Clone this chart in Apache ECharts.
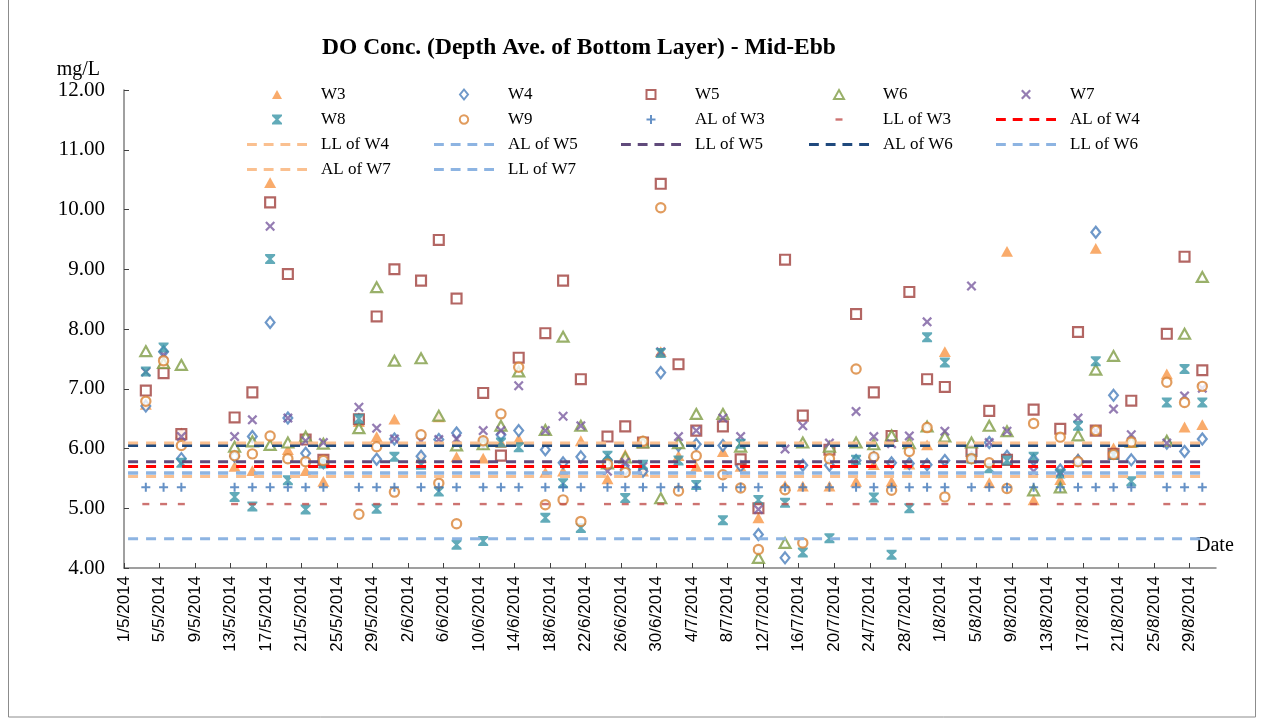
<!DOCTYPE html>
<html>
<head>
<meta charset="utf-8">
<title>DO Conc. (Depth Ave. of Bottom Layer) - Mid-Ebb</title>
<script src="https://cdn.jsdelivr.net/npm/echarts@6/dist/echarts.min.js"></script>
<style>
html, body { margin: 0; padding: 0; background: #fff; }
#chart { width: 1264px; height: 720px; }
</style>
</head>
<body>
<div id="chart"></div>
<script>
// sampling dates in 2014 (d/m)
var sampleDates = ['3/5','5/5','7/5','13/5','15/5','17/5','19/5','21/5','23/5','27/5','29/5','31/5',
  '3/6','5/6','7/6','10/6','12/6','14/6','17/6','19/6','21/6','24/6','26/6','28/6','30/6',
  '2/7','4/7','7/7','9/7','11/7','14/7','16/7','19/7','22/7','24/7','26/7','28/7','30/7',
  '1/8','4/8','6/8','8/8','11/8','14/8','16/8','18/8','20/8','22/8','26/8','28/8','30/8'];

// DO, mg/L
var w3 = [6.74,7.45,6.26,5.70,5.63,10.45,5.98,5.63,5.45,6.45,6.20,6.49,
  5.85,6.53,5.86,5.84,6.10,6.16,5.60,5.62,6.13,5.49,5.90,5.62,7.62,
  5.88,5.70,5.95,5.70,4.84,5.38,5.37,5.37,5.45,5.73,5.45,5.74,6.06,
  7.62,5.85,5.43,9.30,5.14,5.48,5.84,9.35,6.01,6.10,7.25,6.36,6.40];
var w4 = [6.71,7.62,5.83,5.87,6.20,8.11,6.51,5.92,5.76,6.48,5.82,6.16,
  5.87,6.15,6.26,6.10,6.23,6.30,5.98,5.76,5.86,5.80,5.65,5.62,7.27,
  6.05,6.07,6.05,5.71,4.56,4.17,5.72,5.72,5.80,5.85,5.76,5.75,5.73,
  5.80,5.85,6.10,5.87,5.81,5.64,5.80,9.62,6.89,5.81,6.09,5.95,6.16];
var w5 = [6.97,7.26,6.24,6.52,6.94,10.12,8.92,6.15,5.81,6.49,8.21,9.00,
  8.81,9.49,8.51,6.93,5.88,7.52,7.93,8.81,7.16,6.20,6.37,6.10,10.43,
  7.41,6.30,6.37,5.82,5.00,9.16,6.55,5.98,8.25,6.94,6.21,8.62,7.16,
  7.03,5.96,6.63,5.81,6.65,6.33,7.95,6.30,5.91,6.80,7.92,9.21,7.31];
var w6 = [7.63,7.43,7.40,6.03,6.12,6.06,6.10,6.20,6.08,6.34,8.70,7.47,
  7.51,6.55,6.05,6.07,6.38,7.29,6.31,7.87,6.38,5.75,5.85,6.10,5.17,
  6.09,6.58,6.58,6.03,4.17,4.42,6.10,6.03,6.10,6.07,6.22,6.09,6.37,
  6.20,6.10,6.38,6.29,5.30,5.35,6.22,7.32,7.55,6.12,6.13,7.92,8.87];
var w7 = [7.28,7.57,6.20,6.20,6.48,9.72,6.51,6.13,6.10,6.69,6.34,6.16,
  6.12,6.15,6.16,6.30,6.30,7.05,6.30,6.54,6.38,5.62,5.77,5.70,7.62,
  6.20,6.30,6.51,6.20,4.98,5.99,6.38,6.09,6.62,6.20,6.08,6.21,8.12,
  6.29,8.72,6.10,6.29,5.62,5.60,6.51,6.30,6.66,6.23,6.09,6.88,7.01];
var w8 = [7.29,7.69,5.76,5.19,5.03,9.17,5.47,4.98,5.75,6.50,4.99,5.86,
  5.73,5.28,4.39,4.45,6.10,6.02,4.84,5.42,4.67,5.88,5.17,5.73,7.60,
  5.80,5.39,4.80,6.08,5.14,5.09,4.26,4.50,5.81,5.18,4.22,5.00,7.86,
  7.44,5.83,5.67,5.80,5.86,5.58,6.38,7.46,5.89,5.45,6.77,7.33,6.77];
var w9 = [6.79,7.47,6.05,5.88,5.91,6.21,5.83,5.78,5.80,4.90,6.03,5.27,
  6.23,5.42,4.74,6.13,6.58,7.36,5.06,5.14,4.78,5.74,5.60,6.12,10.03,
  5.29,5.88,5.56,5.34,4.31,5.31,4.42,5.83,7.33,5.86,5.30,5.95,6.35,
  5.19,5.83,5.76,5.33,6.42,6.19,5.78,6.30,5.90,6.11,7.11,6.77,7.04];

// action / limit levels
var alW3 = 5.35, llW3 = 5.07;
var limitNames  = ['AL of W4','LL of W4','AL of W5','LL of W5','AL of W6','LL of W6','AL of W7','LL of W7'];
var limitValues = [5.70, 5.53, 5.59, 5.78, 6.05, 5.59, 6.09, 4.49];
var limitColors = ['#FF0000','#FAC090','#8DB4E2','#604A7B','#1F497D','#8DB4E2','#FAC090','#8DB4E2'];
var limitSpan = ['1/5','30/8'];

var yTicks = [4, 12, 1];      // min, max, step
var sampleHour = 11;          // approx. mid-ebb sampling time

var DAY = 86400000, origin = Date.UTC(2014, 4, 1);
function dayOf(s) {
  var p = s.split('/');
  return (Date.UTC(2014, +p[1] - 1, +p[0]) - origin) / DAY;
}
function pts(vals) {
  return sampleDates.map(function (d, i) { return [dayOf(d) + sampleHour / 24, vals[i]]; });
}
function dateLabel(v) {
  var d = new Date(origin + Math.round(v) * DAY);
  return d.getUTCDate() + '/' + (d.getUTCMonth() + 1) + '/2014';
}

var SERIF = '"Liberation Serif", "Times New Roman", serif';
// marker shapes as paths so the legend keeps their aspect
var BOX = 'M0,0M10,10';
var symTri = 'path://' + BOX + 'M5,0.5L10,9.5H0Z';
var symDiamond = 'path://' + BOX + 'M5,0L9,5L5,10L1,5Z';
var symSquare = 'path://' + BOX + 'M0.5,0.5H9.5V9.5H0.5Z';
var symCircle = 'path://' + BOX + 'M5,0.8A4.2,4.2,0,1,1,4.99,0.8Z';
var symX = 'path://' + BOX + 'M0,1.6L1.6,0L5,3.4L8.4,0L10,1.6L6.6,5L10,8.4L8.4,10L5,6.6L1.6,10L0,8.4L3.4,5Z';
var symStar = 'path://' + BOX + 'M0,0H10V1.6L6.4,5L10,8.4V10H0V8.4L3.6,5L0,1.6Z';
var symPlus = 'path://' + BOX + 'M4,0.5H6V4H9.5V6H6V9.5H4V6H0.5V4H4Z';
var symDash = 'path://' + BOX + 'M1.5,3.8H8.5V6.2H1.5Z';
var symDashed = 'path://M0,0H10V3H0Z M17,0H27V3H17Z M34,0H44V3H34Z M51,0H61V3H51Z';

function scatter(name, vals, symbol, size, color, hollow) {
  return {
    name: name, type: 'scatter', data: pts(vals), symbol: symbol, symbolSize: size, color: color,
    itemStyle: hollow ? { color: '#fff', borderColor: color, borderWidth: 2.2 } : { color: color }
  };
}

var series = [
  scatter('W3', w3, symTri, 12, '#F79646', false),
  scatter('W4', w4, symDiamond, 11, '#4A7EBB', true),
  scatter('W5', w5, symSquare, 11, '#A0403C', true),
  scatter('W6', w6, symTri, 11, '#7F9C45', true),
  scatter('W7', w7, symX, 10, '#7B5CA0', false),
  scatter('W8', w8, symStar, 10, '#3B96A8', false),
  scatter('W9', w9, symCircle, 11, '#D98336', true),
  scatter('AL of W3', sampleDates.map(function () { return alW3; }), symPlus, 10, '#3E76B8', false),
  scatter('LL of W3', sampleDates.map(function () { return llW3; }), symDash, 10, '#C0504D', false)
];
limitNames.forEach(function (n, i) {
  series.push({
    name: n, type: 'line', symbol: 'none', silent: true, color: limitColors[i],
    data: limitSpan.map(function (d) { return [dayOf(d) + sampleHour / 24, limitValues[i]]; }),
    itemStyle: { color: limitColors[i] },
    lineStyle: { color: limitColors[i], width: 3, type: [10, 8] }
  });
});

var legendCols = [
  { left: 242, data: ['W3','W8','LL of W4','AL of W7'] },
  { left: 429, data: ['W4','W9','AL of W5','LL of W7'] },
  { left: 616, data: ['W5','AL of W3','LL of W5'] },
  { left: 804, data: ['W6','LL of W3','AL of W6'] },
  { left: 991, data: ['W7','AL of W4','LL of W6'] }
];

var chart = echarts.init(document.getElementById('chart'));
chart.setOption({
  animation: false,
  title: {
    text: 'DO Conc. (Depth Ave. of Bottom Layer) - Mid-Ebb',
    left: 317, top: 31,
    textStyle: { fontFamily: SERIF, fontSize: 23.5, fontWeight: 'bold', color: '#000' }
  },
  legend: legendCols.map(function (c) {
    return {
      orient: 'vertical', left: c.left, top: 81, selectedMode: false, symbolKeepAspect: true,
      data: c.data.map(function (n) {
        return limitNames.indexOf(n) >= 0 ? { name: n, icon: symDashed } : { name: n };
      }),
      itemWidth: 60, itemHeight: 10, itemGap: 8,
      textStyle: { fontFamily: SERIF, fontSize: 17, lineHeight: 17, color: '#000', padding: [0, 0, 0, 9] }
    };
  }),
  grid: { left: 124, right: 48, top: 90, bottom: 152 },
  xAxis: {
    type: 'value', min: 0, max: 123, interval: 4,
    name: 'Date', nameLocation: 'end', nameGap: -20,
    nameTextStyle: { fontFamily: SERIF, fontSize: 20, color: '#000', verticalAlign: 'bottom', padding: [0, 0, 12, 0] },
    splitLine: { show: false },
    axisLine: { lineStyle: { color: '#808080', width: 1.5 } },
    axisTick: { inside: true, length: 5, lineStyle: { color: '#404040' } },
    axisLabel: {
      rotate: 90, margin: 8, showMaxLabel: false, formatter: dateLabel,
      fontFamily: '"Liberation Sans", Arial, sans-serif', fontSize: 17, color: '#000'
    }
  },
  yAxis: {
    type: 'value', min: yTicks[0], max: yTicks[1], interval: yTicks[2],
    name: 'mg/L', nameLocation: 'end', nameGap: 8,
    nameTextStyle: { fontFamily: SERIF, fontSize: 20, color: '#000', align: 'right', padding: [0, 24, 0, 0] },
    splitLine: { show: false },
    axisLine: { show: true, lineStyle: { color: '#808080', width: 1.5 } },
    axisTick: { show: true, inside: true, length: 5, lineStyle: { color: '#404040' } },
    axisLabel: {
      margin: 19, fontFamily: SERIF, fontSize: 21, color: '#000',
      formatter: function (v) { return v.toFixed(2); }
    }
  },
  graphic: [{
    type: 'rect', silent: true,
    shape: { x: 8.5, y: -2, width: 1247, height: 719 },
    style: { fill: null, stroke: '#8c8c8c', lineWidth: 1 }
  }],
  series: series
});
</script>
</body>
</html>
